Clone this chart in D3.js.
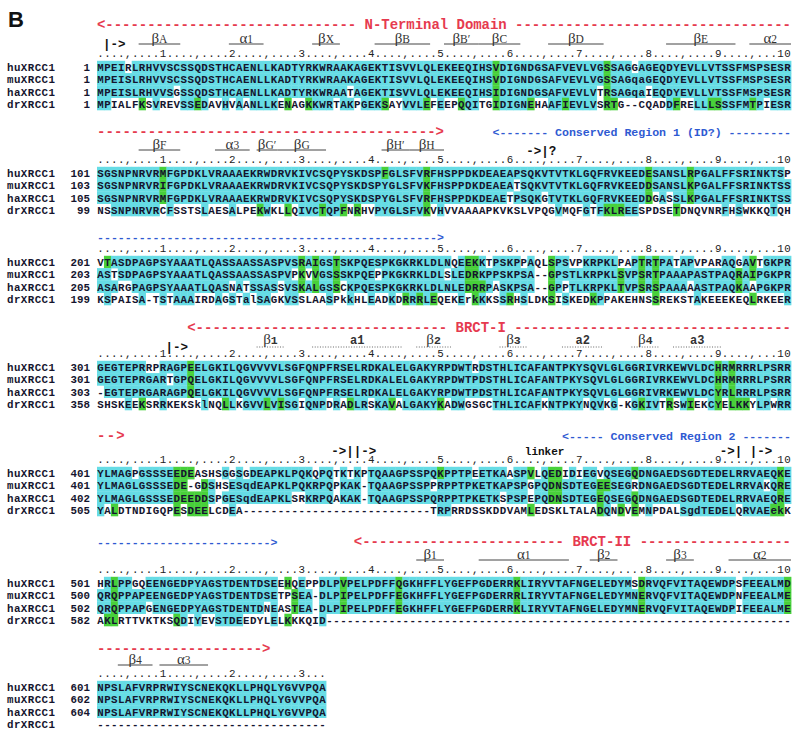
<!DOCTYPE html>
<html><head><meta charset="utf-8">
<script src="https://cdn.jsdelivr.net/npm/d3@7"></script>
<style>body{margin:0;background:#fff}</style>
</head><body>
<svg id="c" width="800" height="740"></svg>
<script>
// ---------------- DATA ----------------
const names = ["huXRCC1","muXRCC1","haXRCC1","drXRCC1"];
const startNumbers = [
  [1,1,1,1],[101,103,105,99],[201,203,205,199],[301,301,303,358],
  [401,401,402,505],[501,500,502,582],[601,602,604,null]
];
const huSeq = [
"MPEIRLRHVVSCSSQDSTHCAENLLKADTYRKWRAAKAGEKTISVVLQLEKEEQIHSVDIGNDGSAFVEVLVGSSAGGAGEQDYEVLLVTSSFMSPSESR",
"SGSNPNRVRMFGPDKLVRAAAEKRWDRVKIVCSQPYSKDSPFGLSFVRFHSPPDKDEAEAPSQKVTVTKLGQFRVKEEDESANSLRPGALFFSRINKTSP",
"VTASDPAGPSYAAATLQASSAASSASPVSRAIGSTSKPQESPKGKRKLDLNQEEKKTPSKPPAQLSPSVPKRPKLPAPTRTPATAPVPARAQGAVTGKPR",
"GEGTEPRRPRAGPEELGKILQGVVVVLSGFQNPFRSELRDKALELGAKYRPDWTRDSTHLICAFANTPKYSQVLGLGGRIVRKEWVLDCHRMRRRLPSRR",
"YLMAGPGSSSEEDEASHSGGSGDEAPKLPQKQPQTKTKPTQAAGPSSPQKPPTPEETKAASPVLQEDIDIEGVQSEGQDNGAEDSGDTEDELRRVAEQKE",
"HRLPPGQEENGEDPYAGSTDENTDSEEHQEPPDLPVPELPDFFQGKHFFLYGEFPGDERRKLIRYVTAFNGELEDYMSDRVQFVITAQEWDPSFEEALMD",
"NPSLAFVRPRWIYSCNEKQKLLPHQLYGVVPQA"
];
const muSeq = [
"MPEISLRHVVSCSSQDSTHCAENLLKADTYRKWRAAKAGEKTISVVLQLEKEEQIHSVDIGNDGSAFVEVLVGSSAGqaGEQDYEVLLVTSSFMSPSESR",
"SGSNPNRVRIFGPDKLVRAAAEKRWDRVKIVCSQPYSKDSPYGLSFVKFHSPPDKDEAEATSQKVTVTKLGQFRVKEEDDSANSLKPGALFFSRINKTSS",
"ASTSDPAGPSYAAATLQASSAASSASPVPKVVGSSSKPQEPPKGKRKLDLSLEDRKPPSKPSA--GPSTLKRPKLSVPSRTPAAAPASTPAQRAIPGKPR",
"GEGTEPRGARTGPQELGKILQGVVVVLSGFQNPFRSELRDKALELGAKYRPDWTPDSTHLICAFANTPKYSQVLGLGGRIVRKEWVLDCHRMRRRLPSRR",
"YLMAGLGSSSEDE-GDSHSESqdEAPKLPQKRPQPKAK-TQAAGPSSPPRPPTPKETKAPSPGPQDNSDTEGEESEGRDNGAEDSGDTEDELRRVAKQRE",
"QRQPPAPEENGEDPYAGSTDENTDSETPSEA-DLPIPELPDFFEGKHFFLYGEFPGDERRRLIRYVTAFNGELEDYMNERVQFVITAQEWDPNFEEALME",
"NPSLAFVRPRWIYSCNEKQKLLPHQLYGVVPQA"
];
const haSeq = [
"MPEISLRHVVSGSSQDSTHCAENLLKADTYRKWRAATAGEKTISVVLQLEKEEQIHSIDIGNDGSAFVEVLVTRSAGqaIEQDYEVLLVTSSFMSPSESR",
"SGSNPNRVRMFGPDKLVRAAAEKRWDRVKIVCSQPYSKDSPYGLSFVRFHSPPDKDEAETPSQKGTVTKLGQFRVKEEDDGASSLKPGALFFSRINKTSS",
"ASARGPAGPSYAAATLQASNATSSASSVSKALGSSCKPQESPKGKRKLDLNLEDRRPASKPSA--GPPTLKRPKLTVPSRSPAAAAASTPAQKAAPGKPR",
"-EGTEPRGARAGPQELGKILQGVVVVLSGFQNPFRSELRDKALELGAKYRPDWTPDSTHLICAFANTPKYSQVLGLGGRIVRKEWVLDCYRLRRRLPSRR",
"YLMAGLGSSSEDEEDDSPGESqdEAPKLSRKRPQAKAK-TQAAGPSSPQRPPTPKETKSPSPEPQDNSDTEGEQSEGQDNGAEDSGDTEDELRRVAEQRE",
"QRQPPAPGENGEDPYAGSTDENTDNEASTEA-DLPIPELPDFFEGKHFFLYGEFPGDERRKLIRYVTAFNGELEDYMNERVQFVITAQEWDPIFEEALME",
"NPSLAFVRPRWIYSCNEKQKLLPHQLYGVVPQA"
];
const drSeq = [
"MPIALFKSVREVSSEDAVHVAANLLKENAGKKWRTAKPGEKSAYVVLEFEEPQQITGIDIGNEHAAFIEVLVSRTG--CQADDFRELLLSSSFMTPIESR",
"NSSNPNRVRCFSSTSLAESALPEKWKLLQIVCTQPFNRHVPYGLSFVKVHVVAAAAPKVKSLVPQGVMQFGTFKLREESPDSETDNQVNRFHSWKKQTQH",
"KSPAISA-TSTAAAIRDAGSTalSAGKVSSLAASPkkHLEADKDRRRLEQEKErkKKSSRHSLDKSISKEDKPPAKEHNSSREKSTAKEEEKEQLRKEER",
"SHSKEEKSRRKEKSklNQLLKGVVLVISGIQNPDRADLRSKAVALGAKYKADWGSGCTHLICAFKNTPKYNQVKG-KGKIVTRSWIEKCYELKKYLPWRR",
"YALDTNDIGQPESDEELCDEA---------------------------TRPRRDSSKDDVAMLEDSKLTALADQNDVEMNPDALSgdTEDELQRVAEekK",
"AKLRTTVKTKSQDIYEVSTDEEDYLELKKKQID-------------------------------------------------------------------",
"---------------------------------"
];
// secondary-structure elements: block, label, first and last residue column
const ssElements = [
  {b:0,label:"βA",from:7,to:12},{b:0,label:"α1",from:20,to:24},{b:0,label:"βX",from:32,to:35},
  {b:0,label:"βB",from:41,to:48},{b:0,label:"βB′",from:51,to:55},{b:0,label:"βC",from:56,to:61},
  {b:0,label:"βD",from:66,to:73},{b:0,label:"βE",from:83,to:92},{b:0,label:"α2",from:95,to:100},
  {b:1,label:"βF",from:7,to:12},{b:1,label:"α3",from:18,to:22},{b:1,label:"βG′",from:24,to:26},
  {b:1,label:"βG",from:27,to:33},{b:1,label:"βH′",from:42,to:45},{b:1,label:"βH",from:46,to:50},
  {b:3,label:"β1",from:24,to:27},{b:3,label:"a1",from:32,to:44},{b:3,label:"β2",from:47,to:51},
  {b:3,label:"β3",from:59,to:62},{b:3,label:"a2",from:68,to:73},{b:3,label:"β4",from:78,to:81},
  {b:3,label:"a3",from:84,to:90},
  {b:5,label:"β1",from:47,to:50},{b:5,label:"α1",from:56,to:68},{b:5,label:"β2",from:72,to:75},
  {b:5,label:"β3",from:83,to:86},{b:5,label:"α2",from:92,to:100},
  {b:6,label:"β4",from:4,to:8},{b:6,label:"α3",from:10,to:16}
];
// domain / region spans: block, kind, columns, label, label centre column, arrow head
const regionSpans = [
  {b:0,kind:"domain",from:1,to:100,label:"N-Terminal Domain",at:48.9,head:"left"},
  {b:1,kind:"domain",from:1,to:50,label:"",at:0,head:"right"},
  {b:1,kind:"region",from:58,to:100,label:"Conserved Region 1 (ID?)",at:78.7,head:"left"},
  {b:2,kind:"region",from:1,to:50,label:"",at:0,head:"right"},
  {b:3,kind:"domain",from:14,to:100,label:"BRCT-I",at:56,head:"left"},
  {b:4,kind:"domain",from:1,to:4,label:"",at:0,head:"right"},
  {b:4,kind:"region",from:68,to:100,label:"Conserved Region 2",at:83.9,head:"left"},
  {b:5,kind:"region",from:1,to:26,label:"",at:0,head:"right"},
  {b:5,kind:"domain",from:38,to:100,label:"BRCT-II",at:73.3,head:"left"},
  {b:6,kind:"domain",from:1,to:25,label:"",at:0,head:"right"}
];
// boundary markers: block, text, centre column
const markers = [
  {b:0,text:"|->",at:3},{b:1,text:"->|?",at:64.5},{b:3,text:"|->",at:12},
  {b:4,text:"->||->",at:37.5},{b:4,text:"linker",at:65},{b:4,text:"->| |->",at:94}
];

// ---------------- LAYOUT ----------------
const layout = [
  {y:67, arrowDy:-38, ssDy:-23, markDy:-19},
  {y:173,arrowDy:-37, ssDy:-23, markDy:-18},
  {y:262,arrowDy:-21, ssDy:-23, markDy:-18},
  {y:367,arrowDy:-35, ssDy:-20, markDy:-16},
  {y:473,arrowDy:-33, ssDy:-23, markDy:-18},
  {y:583,arrowDy:-37, ssDy:-23, markDy:-18},
  {y:687,arrowDy:-34, ssDy:-22, markDy:-18}
];
const rowGap = 12.3;
const SEQ_FS = 10.8;
const CYAN = "#66dce5", GREEN = "#48d03a", RED = "#e63a4f", BLUE = "#2f5ad2", INK = "#15152e";
const MONO = "'Liberation Mono','DejaVu Sans Mono',monospace";
const SERIF = "'Liberation Serif','DejaVu Serif',serif";

const svg = d3.select("#c");
svg.append("rect").attr("width",800).attr("height",740).attr("fill","#fff");
const col = d3.scaleLinear().domain([0.5,100.5]).range([97,791]);
const bw = col(1.5)-col(0.5);
const rowY = d3.scaleLinear().domain([0,1]).range([0,rowGap]);

svg.append("text").attr("x",8).attr("y",27).attr("font-family","'Liberation Sans',Arial,sans-serif")
  .attr("font-weight","bold").attr("font-size",22).attr("fill","#111").text("B");

// similarity classification of a column
const simGroups = ["ILVM","FYW","KRH","DE","NQ","EQ","ST","DN"];
const similar = (a,b)=> a!==b && simGroups.some(g=>g.includes(a)&&g.includes(b));
function classify(res){
  const v = res.map(r=> r && /[A-Za-z]/.test(r) ? r.toUpperCase() : null);
  const counts = d3.rollups(v.filter(r=>r), x=>x.length, x=>x).sort((a,b)=>b[1]-a[1]);
  if(!counts.length) return v.map(()=>null);
  const [cons,c] = counts[0];
  const unique = counts.length===1 || counts[1][1] < c;
  if(unique && c>=3) return v.map(r=> !r?null : r===cons?"id" : similar(r,cons)?"sim":null);
  if(unique && c===2){
    const anySim = v.some(r=>r && similar(r,cons));
    if(anySim) return v.map(r=> !r?null : (r===cons||similar(r,cons))?"sim":null);
    return v.map(r=> r===cons?"id":null);
  }
  return v.map((r,i)=>{
    if(!r) return null;
    const n = v.filter((s,j)=>j!==i && s && (s===r||similar(s,r))).length;
    return n>0?"sim":null;
  });
}

const allSeqs = [huSeq, muSeq, haSeq, drSeq];

layout.forEach((L, b)=>{
  const g = svg.append("g");
  const rows = allSeqs.map(s=>s[b]);
  const len = d3.max(rows, s=>s.length);
  const cells = [];
  for(let i=0;i<len;i++){
    const cls = classify(rows.map(s=>s[i]));
    cls.forEach((k,r)=>{ if(k) cells.push({c:i+1,r,k}); });
  }
  g.append("g").selectAll("rect").data(cells).join("rect")
    .attr("x",d=>col(d.c-0.5)).attr("width",bw+0.4)
    .attr("y",d=>L.y+rowY(d.r)-6.2).attr("height",rowGap+0.3)
    .attr("fill",d=>d.k==="id"?CYAN:GREEN);
  names.forEach((nm,r)=>{
    g.append("text").attr("x",7).attr("y",L.y+rowY(r)+4).attr("font-family",MONO)
      .attr("font-weight","bold").attr("font-size",SEQ_FS).attr("fill",INK)
      .attr("textLength",48).attr("lengthAdjust","spacing").text(nm);
    const n = startNumbers[b][r];
    if(n!==null) g.append("text").attr("x",90).attr("y",L.y+rowY(r)+4).attr("text-anchor","end")
      .attr("font-family",MONO).attr("font-weight","bold").attr("font-size",SEQ_FS).attr("fill",INK).text(n);
  });
  const chars = [];
  rows.forEach((s,r)=>{ for(let i=0;i<s.length;i++) chars.push({c:i+1,r,ch:s[i]}); });
  g.append("g").attr("font-family",MONO).attr("font-weight","bold").attr("font-size",SEQ_FS)
    .attr("fill",INK).attr("text-anchor","middle")
    .selectAll("text").data(chars).join("text")
    .attr("x",d=>col(d.c)).attr("y",d=>L.y+rowY(d.r)+4).text(d=>d.ch);
  const rul = [];
  for(let c=1;c<=len;c++) rul[c] = c%5===0 ? "," : ".";
  for(let c=10;c<=len;c+=10){ const s=String(c/10); for(let k=0;k<s.length;k++) rul[c-s.length+1+k]=s[k]; }
  const rd = []; for(let c=1;c<=len;c++) rd.push({c,ch:rul[c]});
  g.append("g").attr("font-family",MONO).attr("font-size",10.8).attr("fill","#222").attr("text-anchor","middle")
    .selectAll("text").data(rd).join("text")
    .attr("x",d=>col(d.c)).attr("y",L.y-10).text(d=>d.ch);
});

ssElements.forEach(d=>{
  const L = layout[d.b];
  const dotted = d.b===3;
  const ly = L.y + L.ssDy;
  const x0 = col(d.from-0.5), x1 = col(d.to+0.5);
  svg.append("line").attr("x1",x0).attr("x2",x1).attr("y1",ly).attr("y2",ly)
    .attr("stroke", dotted?"#666":"#444").attr("stroke-width",1)
    .attr("stroke-dasharray", dotted?"1,1.6":null);
  const t = svg.append("text").attr("x",(x0+x1)/2).attr("y",ly-(dotted?3:1.5))
    .attr("text-anchor","middle").attr("fill","#333");
  const first = d.label[0], rest = d.label.slice(1);
  if(first==="β"||first==="α"){
    t.append("tspan").attr("font-family",SERIF).attr("font-size",15).text(first);
    t.append("tspan").attr("font-family",dotted?MONO:SERIF).attr("font-weight",dotted?"bold":null)
      .attr("font-size",11.5).text(rest);
  } else {
    t.append("tspan").attr("font-family",MONO).attr("font-weight","bold").attr("font-size",12).text(d.label);
  }
});

regionSpans.forEach(a=>{
  const L = layout[a.b];
  const fs = a.kind==="domain"?14:11.6;
  const adv = fs*0.6;
  const x0 = col(a.from-0.5), x1 = col(a.to+0.5);
  const n = Math.max(3, Math.round((x1-x0)/adv));
  const arr = new Array(n).fill("-");
  if(a.label){
    const lab = " "+a.label+" ";
    const s = Math.round((col(a.at)-x0)/((x1-x0)/n) - lab.length/2);
    for(let i=0;i<lab.length;i++) arr[s+i]=lab[i];
  }
  if(a.head==="left") arr[0]="<";
  if(a.head==="right") arr[n-1]=">";
  svg.append("text").attr("x",x0).attr("y",L.y+L.arrowDy)
    .attr("font-family",MONO).attr("font-weight","bold").attr("font-size",fs)
    .attr("fill",a.kind==="domain"?RED:BLUE)
    .attr("textLength",x1-x0).attr("lengthAdjust","spacing")
    .style("white-space","pre").attr("xml:space","preserve").text(arr.join(""));
});

markers.forEach(m=>{
  const L = layout[m.b];
  svg.append("text").attr("x",col(m.at)).attr("y",L.y+L.markDy)
    .attr("text-anchor","middle").attr("font-family",MONO).attr("font-weight","bold")
    .attr("font-size",m.text==="linker"?11:12.5).attr("fill","#111")
    .style("white-space","pre").attr("xml:space","preserve").text(m.text);
});
</script>
</body></html>
